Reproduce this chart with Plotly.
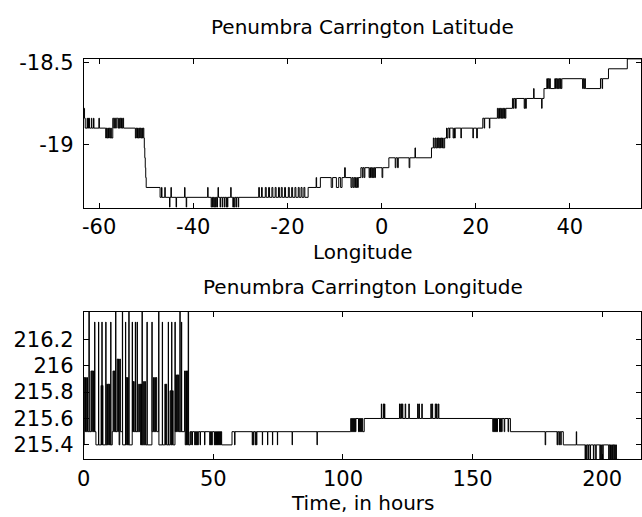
import plotly.graph_objects as go

# ---- Penumbra Carrington latitude against longitude (upper panel) ----
top_lon = [
    -63.27, -63.10, -62.95, -62.55, -62.45, -62.35, -62.25, -62.15, -62.05, -61.65, -61.55, -61.20, -61.10, -60.05, -59.95,
    -58.60, -58.45, -58.30, -58.15, -58.00, -57.85, -57.70, -57.55, -57.40,
    -57.10, -56.90, -56.75, -56.50, -56.35, -56.15, -56.00, -55.85, -55.70, -55.55, -55.40, -55.25, -55.10, -54.95, -54.80,
    -52.30, -52.15, -52.00, -51.85, -51.70, -51.55, -51.40, -51.25, -51.10, -50.95, -50.80, -50.65,
    -50.50, -50.40, -50.30, -50.20, -50.10, -50.00,
    -47.05, -46.75, -46.65, -46.05, -45.95, -45.05, -44.95, -44.75, -44.65, -43.65, -43.55,
    -41.85, -41.75, -41.50, -41.40, -36.95, -36.85,
    -36.20, -36.05, -35.90, -35.75, -35.60, -35.45, -35.30, -35.15, -35.00, -34.85, -34.75, -34.65, -34.30, -34.20, -33.85, -33.75,
    -33.40, -33.30, -33.00, -32.90, -32.75, -32.65, -32.05, -31.95, -31.60, -31.45, -31.30, -31.15, -30.90, -30.80, -30.45, -30.35,
    -26.10, -25.95, -25.50, -25.35, -24.70, -24.50, -24.00, -23.80, -23.30, -23.10, -22.60, -22.40, -21.90, -21.70, -21.30,
    -21.10, -20.60, -20.40, -19.80, -19.60, -19.10, -18.90, -18.40, -18.20, -17.70, -17.50, -17.10, -16.90, -16.50, -16.30,
    -15.60, -13.90, -13.80, -13.00,
    -10.70, -10.40, -9.60, -9.10, -8.70, -8.40, -7.85, -7.70, -6.50, -6.30, -6.10, -5.90, -5.70, -5.55, -5.40, -5.25, -5.10,
    -4.95, -4.40,
    -4.10, -3.95, -3.70, -3.55, -2.65, -2.50, -2.35, -2.20, -2.05, -1.90, -1.75, -1.60, -1.45, -1.30, 0.10, 0.25, 1.55,
    2.90, 3.05, 3.40, 3.55, 5.85, 6.00, 7.10, 7.20, 10.60,
    11.00, 11.15, 11.40, 11.55, 11.75, 11.90, 12.05, 12.20, 12.35, 12.50, 12.65, 12.80, 12.95, 13.10, 13.40, 13.80, 13.90, 14.10,
    14.40, 14.50, 15.20, 15.35, 15.50, 15.65, 16.85, 16.95, 19.40, 19.50, 20.20, 20.35, 21.50,
    21.80, 21.90, 22.90, 23.00, 24.60, 24.75, 24.90, 25.05, 25.20, 25.35, 25.50, 25.65, 25.80, 25.95, 26.10, 26.25, 26.40,
    27.80, 28.00, 28.15, 28.45, 28.60, 30.30, 30.45, 30.60, 30.75,
    32.30, 32.40, 34.00, 34.10, 34.50, 35.10, 35.25, 35.40, 35.55, 35.70, 35.85, 36.80, 36.95, 37.10, 37.25, 37.40, 37.55,
    37.70, 37.85, 38.00, 38.15, 38.30, 38.50,
    42.70, 42.85, 43.00, 43.15, 43.30, 43.45, 46.50, 46.85, 46.95, 48.20, 52.20, 55.37,
]
top_lat = [
    -18.78, -18.84, -18.90, -18.84, -18.90, -18.84, -18.90, -18.84, -18.90, -18.84, -18.90, -18.84, -18.90, -18.84, -18.90,
    -18.96, -18.90, -18.96, -18.90, -18.96, -18.90, -18.96, -18.90, -18.96,
    -18.84, -18.90, -18.84, -18.90, -18.84, -18.84, -18.90, -18.84, -18.90, -18.84, -18.90, -18.84, -18.90, -18.84, -18.90,
    -18.96, -18.90, -18.96, -18.90, -18.96, -18.90, -18.96, -18.90, -18.96, -18.90, -18.96, -18.90,
    -18.96, -19.02, -19.08, -19.14, -19.20, -19.26,
    -19.32, -19.26, -19.32, -19.26, -19.32, -19.38, -19.32, -19.26, -19.32, -19.38, -19.32,
    -19.26, -19.32, -19.38, -19.32, -19.26, -19.32,
    -19.38, -19.32, -19.38, -19.32, -19.38, -19.32, -19.38, -19.32, -19.38, -19.32, -19.26, -19.32, -19.38, -19.32, -19.38, -19.32,
    -19.38, -19.32, -19.38, -19.32, -19.38, -19.32, -19.26, -19.32, -19.38, -19.32, -19.38, -19.32, -19.38, -19.32, -19.38, -19.32,
    -19.26, -19.32, -19.26, -19.32, -19.26, -19.32, -19.26, -19.32, -19.26, -19.32, -19.26, -19.32, -19.26, -19.32, -19.26,
    -19.32, -19.26, -19.32, -19.26, -19.32, -19.26, -19.32, -19.26, -19.32, -19.26, -19.32, -19.26, -19.32, -19.26, -19.32,
    -19.26, -19.20, -19.26, -19.20,
    -19.26, -19.20, -19.26, -19.20, -19.26, -19.20, -19.14, -19.20, -19.26, -19.20, -19.26, -19.20, -19.26, -19.20, -19.26, -19.20, -19.26,
    -19.20, -19.14,
    -19.20, -19.14, -19.20, -19.14, -19.20, -19.14, -19.20, -19.14, -19.20, -19.14, -19.20, -19.14, -19.20, -19.14, -19.20, -19.14, -19.08,
    -19.14, -19.08, -19.14, -19.08, -19.14, -19.08, -19.02, -19.08, -19.02,
    -18.96, -19.02, -18.96, -19.02, -18.96, -19.02, -18.96, -19.02, -18.96, -19.02, -18.96, -19.02, -18.96, -19.02, -18.96, -18.90, -18.96, -18.90,
    -18.96, -18.90, -18.96, -18.90, -18.96, -18.90, -18.96, -18.90, -18.96, -18.90, -18.96, -18.90, -18.84,
    -18.90, -18.84, -18.90, -18.84, -18.78, -18.84, -18.78, -18.84, -18.78, -18.84, -18.78, -18.84, -18.78, -18.84, -18.78, -18.84, -18.78,
    -18.72, -18.78, -18.72, -18.78, -18.72, -18.78, -18.72, -18.78, -18.72,
    -18.66, -18.72, -18.78, -18.72, -18.66, -18.60, -18.66, -18.60, -18.66, -18.60, -18.66, -18.60, -18.66, -18.60, -18.66, -18.60, -18.66,
    -18.60, -18.66, -18.60, -18.66, -18.60, -18.60,
    -18.66, -18.60, -18.66, -18.60, -18.66, -18.66, -18.60, -18.66, -18.60, -18.54, -18.48, -18.48,
]

# ---- Penumbra Carrington longitude against time (lower panel) ----
time_h = [
    0.00, 0.20, 0.45, 0.70, 0.95, 1.20, 1.45, 2.00, 2.15,
    2.80, 3.05, 3.30, 3.55, 3.80, 4.00, 4.20, 4.30, 4.70,
    5.70, 5.80, 6.70, 6.85, 7.00, 7.10, 7.25, 7.40, 8.50, 8.60,
    8.90, 9.15, 9.40, 9.65, 9.90, 10.10, 10.40, 10.50,
    11.00, 11.30, 11.55, 11.80, 12.00, 12.30, 12.40,
    12.90, 13.15, 13.40, 13.65, 13.90, 14.15, 14.90, 15.00,
    16.10, 16.20, 16.40, 16.65, 16.90, 17.15, 17.40, 17.50,
    18.70, 18.80, 19.00, 19.15, 19.30, 19.45, 19.90, 20.00, 20.60, 20.70,
    21.20, 21.45, 21.70, 21.95, 22.20, 22.35, 22.50, 22.60, 23.10, 23.35, 23.60, 23.80,
    24.40, 24.50, 26.30, 26.40, 26.90, 27.15, 27.40, 27.65, 27.90, 28.15, 28.90, 29.00,
    30.30, 30.40, 31.30, 31.55, 31.80, 32.00, 32.60, 32.70, 33.30, 33.55, 33.90, 34.00, 34.25, 34.50,
    35.20, 35.30, 35.50, 35.75, 36.00, 36.25, 36.50, 36.70, 37.10, 37.20, 37.70, 37.80,
    38.90, 39.15, 39.40, 39.65, 39.90, 40.10, 40.30, 40.45, 41.00, 41.30, 41.45, 41.80, 41.95,
    42.80, 43.00, 43.20, 43.40, 43.60, 43.80, 44.00, 44.20, 44.90, 45.05, 46.60, 46.75,
    48.60, 48.80, 49.00, 49.20, 49.40, 49.60, 50.40, 50.60, 50.80, 51.00, 51.20, 51.40, 51.60, 51.80, 52.00, 52.20,
    52.40, 52.60, 52.80, 53.00, 53.20,
    57.20, 58.20, 58.35, 65.00, 65.20, 65.40, 65.60, 66.20, 66.40, 66.60, 66.80, 68.90, 69.00, 70.90, 71.00, 72.80,
    72.90, 74.70, 74.80,
    80.40, 80.50, 90.00, 90.10,
    103.00, 103.20, 103.40, 103.60, 103.80, 104.00, 104.20, 104.40, 104.60, 104.80, 105.00, 106.00, 106.20, 106.40,
    106.60, 106.80, 107.00, 107.20, 107.40, 107.60, 108.20,
    114.80, 114.95, 115.60, 115.80, 116.00, 116.15,
    121.80, 122.00, 122.30, 122.60, 122.90, 123.10, 124.00, 124.20, 125.40, 125.60,
    128.80, 129.00, 129.30, 129.50, 130.40, 130.60,
    133.90, 134.10, 134.40, 134.60, 135.60, 135.80, 136.10, 136.30, 136.80, 137.00,
    157.80, 158.00, 158.20, 158.40, 158.60, 158.80, 159.00, 159.20, 159.40, 159.60, 160.40, 160.60, 160.80, 161.00,
    161.20, 161.40, 162.20, 162.40, 163.70, 163.90, 164.60,
    178.00, 178.20, 182.60, 182.80, 183.30, 183.50, 184.00, 184.20, 185.00, 190.00, 190.15,
    193.40, 193.60, 193.80, 194.00, 194.50, 194.70, 195.30, 195.50, 196.60, 196.80, 197.50, 197.70, 199.10, 199.30,
    199.60, 199.80, 200.20, 200.40,
    202.50, 202.70, 203.00, 203.20, 203.50, 203.70, 204.00, 204.20, 204.50, 204.70, 205.00, 205.20, 205.50, 206.50,
]
carr_lon = [
    215.40, 215.91, 215.50, 215.91, 215.50, 215.91, 215.50, 216.41, 215.50,
    215.96, 215.50, 215.96, 215.50, 215.96, 215.50, 216.33, 215.50, 215.40,
    216.33, 215.40, 215.85, 215.40, 216.33, 215.40, 215.85, 215.40, 216.33, 215.40,
    215.86, 215.40, 215.86, 215.40, 215.86, 215.40, 216.33, 215.40,
    215.50, 215.96, 215.50, 215.96, 215.50, 216.41, 215.50,
    216.05, 215.50, 216.05, 215.40, 216.05, 215.50, 216.41, 215.40,
    216.33, 215.40, 215.91, 215.40, 215.91, 215.40, 216.41, 215.40,
    216.33, 215.50, 215.88, 215.50, 215.88, 215.50, 216.33, 215.50, 216.33, 215.50,
    215.86, 215.50, 215.86, 215.40, 215.86, 215.40, 216.41, 215.40, 215.88, 215.40, 215.88, 215.40,
    216.33, 215.40, 216.33, 215.50, 215.91, 215.50, 215.91, 215.50, 215.91, 215.50, 216.41, 215.40,
    216.33, 215.40, 215.86, 215.40, 215.86, 215.40, 216.33, 215.40, 215.81, 215.40, 216.33, 215.40, 215.81, 215.40,
    216.33, 215.50, 215.93, 215.50, 215.93, 215.50, 215.93, 215.50, 216.41, 215.50, 216.33, 215.50,
    215.96, 215.40, 215.96, 215.40, 215.96, 215.40, 216.41, 215.40, 215.50, 215.40, 215.50, 215.40, 215.50,
    215.40, 215.50, 215.40, 215.50, 215.40, 215.50, 215.40, 215.50, 215.40, 215.50, 215.40, 215.50,
    215.40, 215.50, 215.40, 215.50, 215.40, 215.50, 215.40, 215.50, 215.40, 215.50, 215.40, 215.50, 215.40, 215.50, 215.40, 215.50,
    215.40, 215.50, 215.40, 215.50, 215.40,
    215.50, 215.40, 215.50, 215.40, 215.50, 215.40, 215.50, 215.40, 215.50, 215.40, 215.50, 215.40, 215.50, 215.40, 215.50, 215.40,
    215.50, 215.40, 215.50,
    215.40, 215.50, 215.40, 215.50,
    215.60, 215.50, 215.60, 215.50, 215.60, 215.50, 215.60, 215.50, 215.60, 215.50, 215.60, 215.50, 215.60, 215.50,
    215.60, 215.50, 215.60, 215.50, 215.60, 215.50, 215.60,
    215.71, 215.60, 215.71, 215.60, 215.71, 215.60,
    215.71, 215.60, 215.71, 215.60, 215.71, 215.60, 215.71, 215.60, 215.71, 215.60,
    215.71, 215.60, 215.71, 215.60, 215.71, 215.60,
    215.71, 215.60, 215.71, 215.60, 215.71, 215.60, 215.71, 215.60, 215.71, 215.60,
    215.50, 215.60, 215.50, 215.60, 215.50, 215.60, 215.50, 215.60, 215.50, 215.60, 215.50, 215.60, 215.50, 215.60,
    215.50, 215.60, 215.50, 215.60, 215.50, 215.60, 215.50,
    215.40, 215.50, 215.40, 215.50, 215.40, 215.50, 215.40, 215.50, 215.40, 215.50, 215.40,
    215.29, 215.40, 215.29, 215.40, 215.29, 215.40, 215.29, 215.40, 215.29, 215.40, 215.29, 215.40, 215.29, 215.40,
    215.29, 215.40, 215.29, 215.40,
    215.29, 215.40, 215.29, 215.40, 215.29, 215.40, 215.29, 215.40, 215.29, 215.40, 215.29, 215.40, 215.29, 215.29,
]

# ---- tick labels ----
lon_ticks = [-60, -40, -20, 0, 20, 40]
lon_tick_text = ["-60", "-40", "-20", "0", "20", "40"]
lat_ticks = [-19, -18.5]
lat_tick_text = ["-19", "-18.5"]
hour_ticks = [0, 50, 100, 150, 200]
hour_tick_text = ["0", "50", "100", "150", "200"]
clon_ticks = [215.4, 215.6, 215.8, 216.0, 216.2]
clon_tick_text = ["215.4", "215.6", "215.8", "216", "216.2"]

W, H = 642, 517
FONT = "DejaVu Sans, sans-serif"
LEFT = 77.7 / W

line_style = dict(color="black", width=1, shape="hv")

fig = go.Figure()
fig.add_trace(go.Scatter(x=top_lon, y=top_lat, mode="lines", line=line_style,
                         xaxis="x", yaxis="y", hoverinfo="skip", showlegend=False))
fig.add_trace(go.Scatter(x=time_h, y=carr_lon, mode="lines", line=line_style,
                         xaxis="x2", yaxis="y2", hoverinfo="skip", showlegend=False))

axis_common = dict(
    showline=True, linecolor="black", linewidth=1, mirror="ticks",
    ticks="inside", ticklen=5, tickwidth=1, tickcolor="black",
    showgrid=False, zeroline=False,
    tickfont=dict(family=FONT, size=21, color="black"),
)

fig.update_layout(
    width=W, height=H,
    margin=dict(l=0, r=0, t=0, b=0),
    paper_bgcolor="white", plot_bgcolor="white",
    font=dict(family=FONT, color="black"),
    xaxis=dict(axis_common, domain=[LEFT, 1.0], range=[-63.27, 55.11], anchor="y",
               tickvals=lon_ticks, ticktext=lon_tick_text),
    yaxis=dict(axis_common, domain=[1 - 202.7 / H, 1 - 51.7 / H], range=[-19.382, -18.48], anchor="x",
               tickvals=lat_ticks, ticktext=lat_tick_text, ticklabelstandoff=5),
    xaxis2=dict(axis_common, domain=[LEFT, 1.0], range=[0, 214.97], anchor="y2",
                tickvals=hour_ticks, ticktext=hour_tick_text),
    yaxis2=dict(axis_common, domain=[1 - 458.5 / H, 1 - 308.3 / H], range=[215.29, 216.41], anchor="x2",
                tickvals=clon_ticks, ticktext=clon_tick_text, ticklabelstandoff=5),
)

cx = (77.7 + 643) / 2 / W
labels = [
    ("Penumbra Carrington Latitude", 19),
    ("Longitude", 248),
    ("Penumbra Carrington Longitude", 283),
    ("Time, in hours", 503),
]
for text, ypix in labels:
    fig.add_annotation(text=text, x=cx, y=1 - ypix / H, xref="paper", yref="paper",
                       xanchor="center", yanchor="middle", showarrow=False,
                       font=dict(family=FONT, size=20, color="black"))

fig.write_html("out.html")
